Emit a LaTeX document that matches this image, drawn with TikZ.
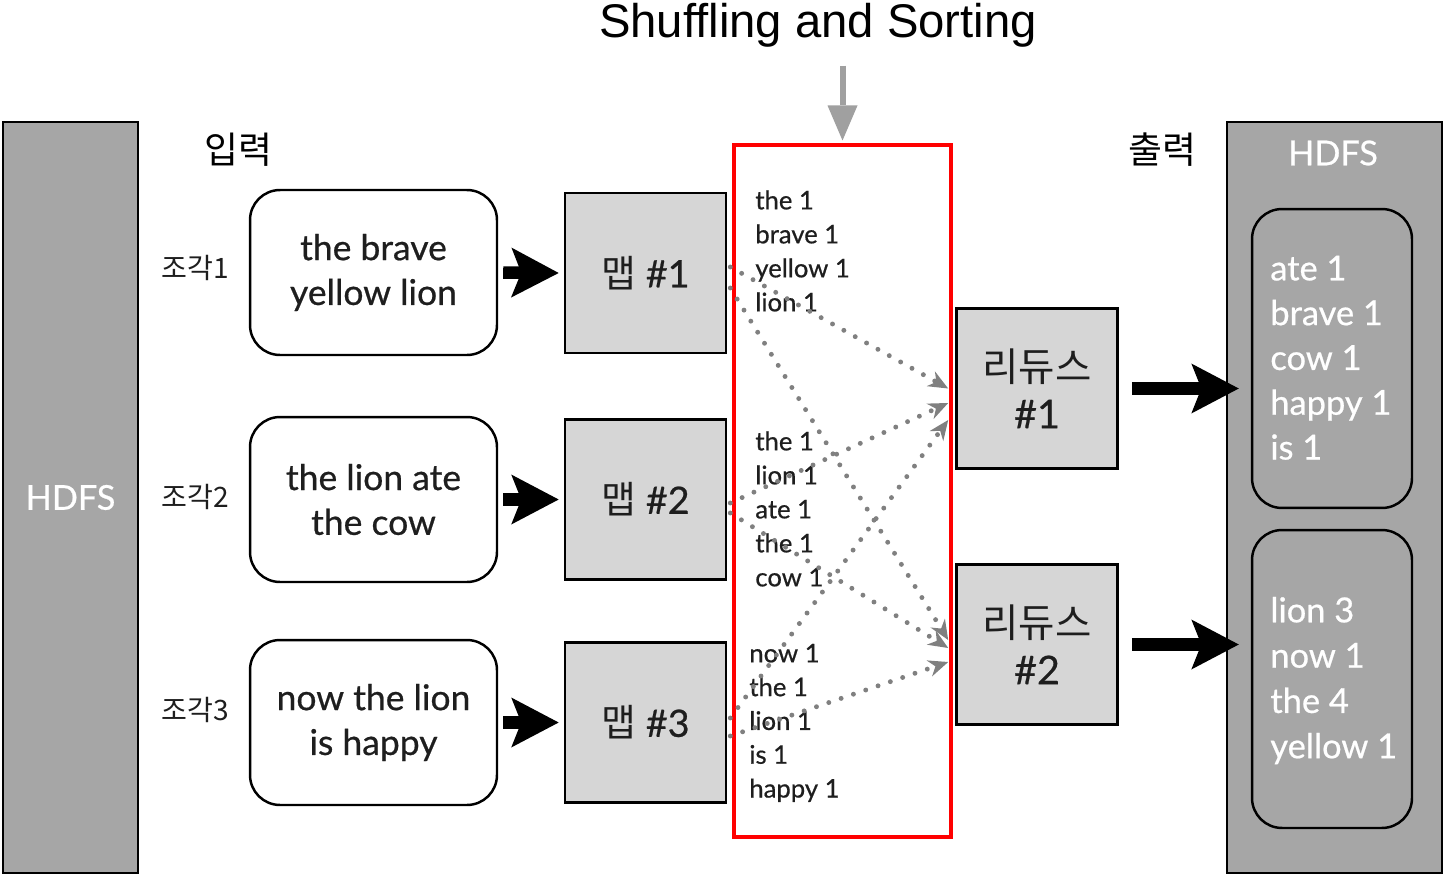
\documentclass[tikz,border=0pt]{standalone}
\usepackage{fontspec}
\setmainfont{Lato}
\newfontfamily\gill{Lato}[FakeBold=0.6]
\newfontfamily\kr{Noto Sans CJK KR}
\newfontfamily\arial{Liberation Sans}
\usetikzlibrary{arrows.meta}

\definecolor{hdfsgray}{HTML}{A6A6A6}
\definecolor{boxgray}{HTML}{D6D6D6}
\definecolor{wordgray}{HTML}{1E1E1E}
\definecolor{dotgray}{HTML}{808080}
\definecolor{arrowgray}{HTML}{A0A0A0}

\tikzset{
  hdfs/.style={draw=black, line width=1.4pt, fill=hdfsgray, inner sep=0pt},
  chunk/.style={draw=black, line width=1.4pt, rounded corners=0.6cm, fill=white,
    minimum width=4.94cm, minimum height=3.3cm, align=center, text=wordgray,
    font=\gill\fontsize{20.2}{25.5}\selectfont},
  task/.style={draw=black, line width=1.5pt, fill=boxgray, minimum width=3.22cm,
    minimum height=3.2cm, align=center, text=wordgray, font=\gill\fontsize{21.5}{26.6}\selectfont},
  word/.style={anchor=west, inner sep=0pt, text=wordgray, text height=1.6ex,
    text depth=0.4ex, font=\gill\fontsize{14.6}{16}\selectfont},
  outword/.style={word, text=white, font=\gill\fontsize{19.6}{21}\selectfont},
  bigarrow/.style={-{Stealth[length=0.95cm, width=1cm, inset=0.2cm, line width=0pt]},
    line width=0.25cm},
  shuffle/.style={dotgray, line width=2.8pt, dash pattern=on 0pt off 7.4pt, line cap=round,
    -{Stealth[length=0.4cm, width=0.34cm, line width=0pt]}},
}

\begin{document}
\begin{tikzpicture}[x=0.02cm, y=-0.02cm]
    \useasboundingbox (0,0) rectangle (1447,879);

    % TITLE
    \node[font=\arial\fontsize{26.9}{30}\selectfont] (title) at (818,25) {Shuffling and Sorting};

    % HDFS (INPUT)
    \node[hdfs, minimum width=2.7cm, minimum height=15.02cm, text=white,
      font=\gill\fontsize{19.5}{22}\selectfont] (hdfsin) at (70.5,497.5) {HDFS};
    \node[font=\kr\fontsize{21}{23}\selectfont] (inlbl) at (238,150) {입력};
    \node[font=\kr\fontsize{21}{23}\selectfont] (outlbl) at (1162,150) {출력};

    % CHUNKS
    \foreach \i/\y in {1/268, 2/497, 3/710}
        \node[font=\kr\fontsize{16}{18}\selectfont, text=wordgray] (piece\i) at (195,\y) {조각\i};
    \node[chunk] (chunk1) at (373.5,272.5) {the brave\\yellow lion};
    \node[chunk] (chunk2) at (373.5,499.5) {the lion ate\\the cow};
    \node[chunk] (chunk3) at (373.5,722.5) {now the lion\\is happy};

    % MAPS
    \node[task] (map1) at (645.5,273) {{\kr 맵} \#1};
    \node[task] (map2) at (645.5,499.5) {{\kr 맵} \#2};
    \node[task] (map3) at (645.5,722.5) {{\kr 맵} \#3};
    \foreach \i in {1,2,3}
        \draw[bigarrow] ([xshift=0.1cm]chunk\i.east) -- ([xshift=-0.1cm]map\i.west);

    % SHUFFLE BOX
    \node[draw=red, line width=1.8pt, minimum width=4.34cm, minimum height=13.84cm] (shufbox) at (842.5,491) {};
    \draw[-{Triangle[length=0.7cm, width=0.6cm, line width=0pt]}, line width=0.12cm, arrowgray]
        ([yshift=-0.25cm]title.south -| shufbox.north) -- ([yshift=0.06cm]shufbox.north);

    \foreach \w [count=\i] in {the 1, brave 1, yellow 1, lion 1}
        \node[word] (sa\i) at (755,{204+34*(\i-1)}) {\w};
    \foreach \w [count=\i] in {the 1, lion 1, ate 1, the 1, cow 1}
        \node[word] (sb\i) at (755,{445+34*(\i-1)}) {\w};
    \foreach \w [count=\i] in {now 1, the 1, lion 1, is 1, happy 1}
        \node[word] (sc\i) at (749,{657+33.8*(\i-1)}) {\w};

    % REDUCES
    \node[task, font=\gill\fontsize{22.5}{26.6}\selectfont] (red1) at (1037,388.5) {{\kr 리듀스}\\\#1};
    \node[task, font=\gill\fontsize{22.5}{26.6}\selectfont] (red2) at (1037,644.5) {{\kr 리듀스}\\\#2};

    % SHUFFLE ARROWS
    \foreach \m/\ms/\r/\rs in {1/0.12/1/0, 1/-0.3/2/0.09, 2/-0.07/1/-0.29,
                               2/-0.27/2/-0.07, 3/0.09/1/-0.63, 3/-0.27/2/-0.35}
        \draw[shuffle] ([xshift=0.06cm, yshift=\ms cm]map\m.east) -- ([xshift=-0.14cm, yshift=\rs cm]red\r.west);

    % HDFS (OUTPUT)
    \node[hdfs, minimum width=4.3cm, minimum height=15.02cm] (hdfsout) at (1334.5,497.5) {};
    \node[text=white, font=\gill\fontsize{19.5}{22}\selectfont] (hdfslbl) at (1333,153) {HDFS};
    \node[hdfs, rounded corners=0.6cm, minimum width=3.2cm, minimum height=5.98cm] (part1) at (1332,358.5) {};
    \node[hdfs, rounded corners=0.6cm, minimum width=3.2cm, minimum height=5.96cm] (part2) at (1332,679) {};
    \foreach \w [count=\i] in {ate 1, brave 1, cow 1, happy 1, is 1}
        \node[outword] (oa\i) at (1270,{275+44.8*(\i-1)}) {\w};
    \foreach \w [count=\i] in {lion 3, now 1, the 4, yellow 1}
        \node[outword] (ob\i) at (1270,{617+45.3*(\i-1)}) {\w};

    \draw[bigarrow] ([xshift=0.26cm]red1.east) -- ([xshift=-0.24cm]red1.east -| part1.west);
    \draw[bigarrow] ([xshift=0.26cm]red2.east) -- ([xshift=-0.24cm]red2.east -| part2.west);

\end{tikzpicture}
\end{document}
